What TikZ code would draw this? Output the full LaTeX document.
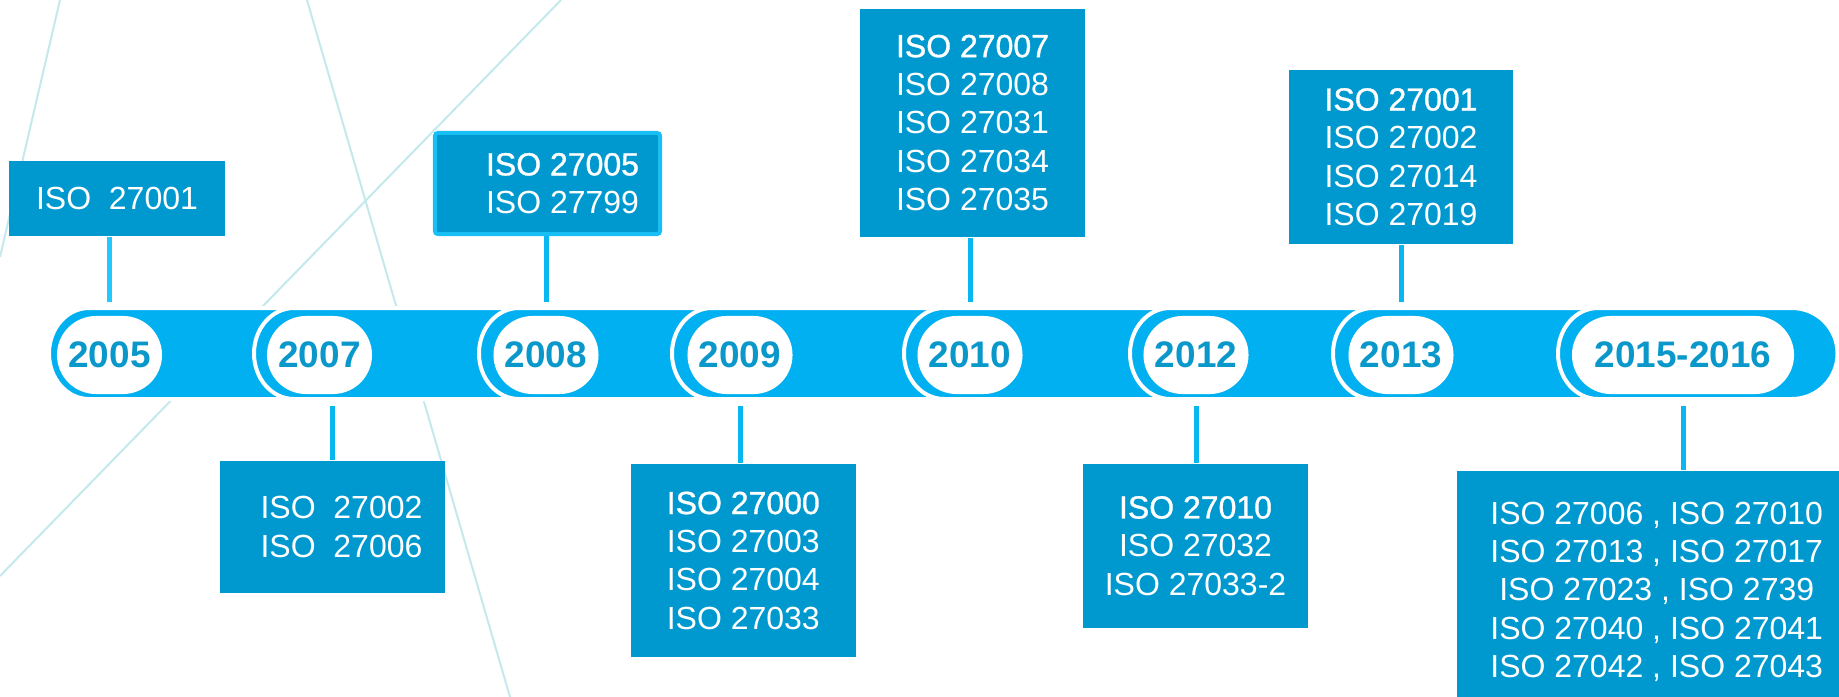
\documentclass[tikz,border=0pt]{standalone}
\usepackage{fontspec}
\setmainfont{Liberation Sans}
\newfontfamily\semibold{Liberation Sans}[FakeBold=1]
\usetikzlibrary{shapes.misc}
\definecolor{barblue}{HTML}{00B0F0}
\definecolor{boxblue}{HTML}{0099CF}
\definecolor{yeartext}{HTML}{0A98CB}
\definecolor{stemblue}{HTML}{08B6F2}
\definecolor{stemlight}{HTML}{22C8FF}
\definecolor{boxrim}{HTML}{18BFF5}
\definecolor{faintline}{HTML}{C4E9EC}

\begin{document}
\begin{tikzpicture}[x=0.01cm,y=-0.01cm,
  bar/.style={fill=barblue, draw=white, line width=0.04cm},
  year/.style={shape=rounded rectangle, fill=white, inner sep=0pt, minimum width=1.05cm, minimum height=0.78cm, text=yeartext, font=\fontsize{10.5}{12}\selectfont\bfseries},
  isobox/.style={fill=boxblue, text=white, align=center, inner sep=0pt, font=\fontsize{9.1}{10.9}\selectfont},
  stem/.style={stemblue, line width=0.05cm},
  faint/.style={faintline, line width=0.02cm}]
\useasboundingbox (0,0) rectangle (1839,697);
\draw[faint] (60,0)--(0,257);
\draw[faint] (307,0)--(510,697);
\draw[faint] (561,0)--(0,576);
\foreach \l in {49,254,479,672,904,1130,1333,1558} {
 \draw[bar] ({\l+40},399) arc[start angle=90, end angle=270, x radius=40, y radius=45.5]
   --(1792,308) arc[start angle=-90, end angle=90, radius=45.5] -- cycle;
}
\foreach \x/\yr in {109.5/2005, 319.5/2007, 546/2008, 740/2009, 970/2010, 1196/2012, 1401/2013}
 \node[year] (y\yr) at (\x,355) {\yr};
\node[year, minimum width=2.22cm] (y2015) at (1683,355) {2015-2016};

\node[isobox, minimum width=2.16cm, minimum height=0.75cm] (b2005) at (117,198.5) {ISO\ \ 27001};
\node[isobox, minimum width=2.25cm, minimum height=1.32cm] (b2007) at (332.5,527)
 {\hspace*{0.18cm}ISO\ \ 27002\\\hspace*{0.18cm}ISO\ \ 27006};
\node[isobox, draw=boxrim, line width=0.04cm, rounded corners=0.03cm, minimum width=2.25cm, minimum height=1.01cm] (b2008) at (547.5,183.5)
 {\hspace*{0.3cm}{\semibold ISO 27005}\\\hspace*{0.3cm}ISO 27799};
\node[isobox, minimum width=2.25cm, minimum height=1.93cm] (b2009) at (743.3,560.5)
 {{\semibold ISO 27000}\\ISO 27003\\ISO 27004\\ISO 27033};
\node[isobox, minimum width=2.25cm, minimum height=2.28cm] (b2010) at (972.5,122.8)
 {{\semibold ISO 27007}\\ISO 27008\\ISO 27031\\ISO 27034\\ISO 27035};
\node[isobox, minimum width=2.25cm, minimum height=1.64cm] (b2012) at (1195.5,545.8)
 {{\semibold ISO 27010}\\ISO 27032\\ISO 27033-2};
\node[isobox, minimum width=2.24cm, minimum height=1.74cm] (b2013) at (1401,157)
 {{\semibold ISO 27001}\\ISO 27002\\ISO 27014\\ISO 27019};
\node[isobox, minimum width=4cm, minimum height=2.42cm] (b2015) at (1656.7,591.7)
 {ISO 27006 , ISO 27010\\ISO 27013 , ISO 27017\\ISO 27023 , ISO 2739\\ISO 27040 , ISO 27041\\ISO 27042 , ISO 27043};

\draw[stem, stemlight, shorten >=0.13cm] (y2005.north |- b2005.south) -- (y2005.north);
\foreach \yr in {2008,2010,2013}
 \draw[stem, shorten >=0.13cm] (y\yr.north |- b\yr.south) -- (y\yr.north);
\foreach \yr in {2009,2012,2015}
 \draw[stem, shorten <=0.115cm] (y\yr.south) -- (y\yr.south |- b\yr.north);
\draw[stem, shorten >=0.115cm] (b2007.north) -- (b2007.north |- y2007.south);
\end{tikzpicture}
\end{document}
